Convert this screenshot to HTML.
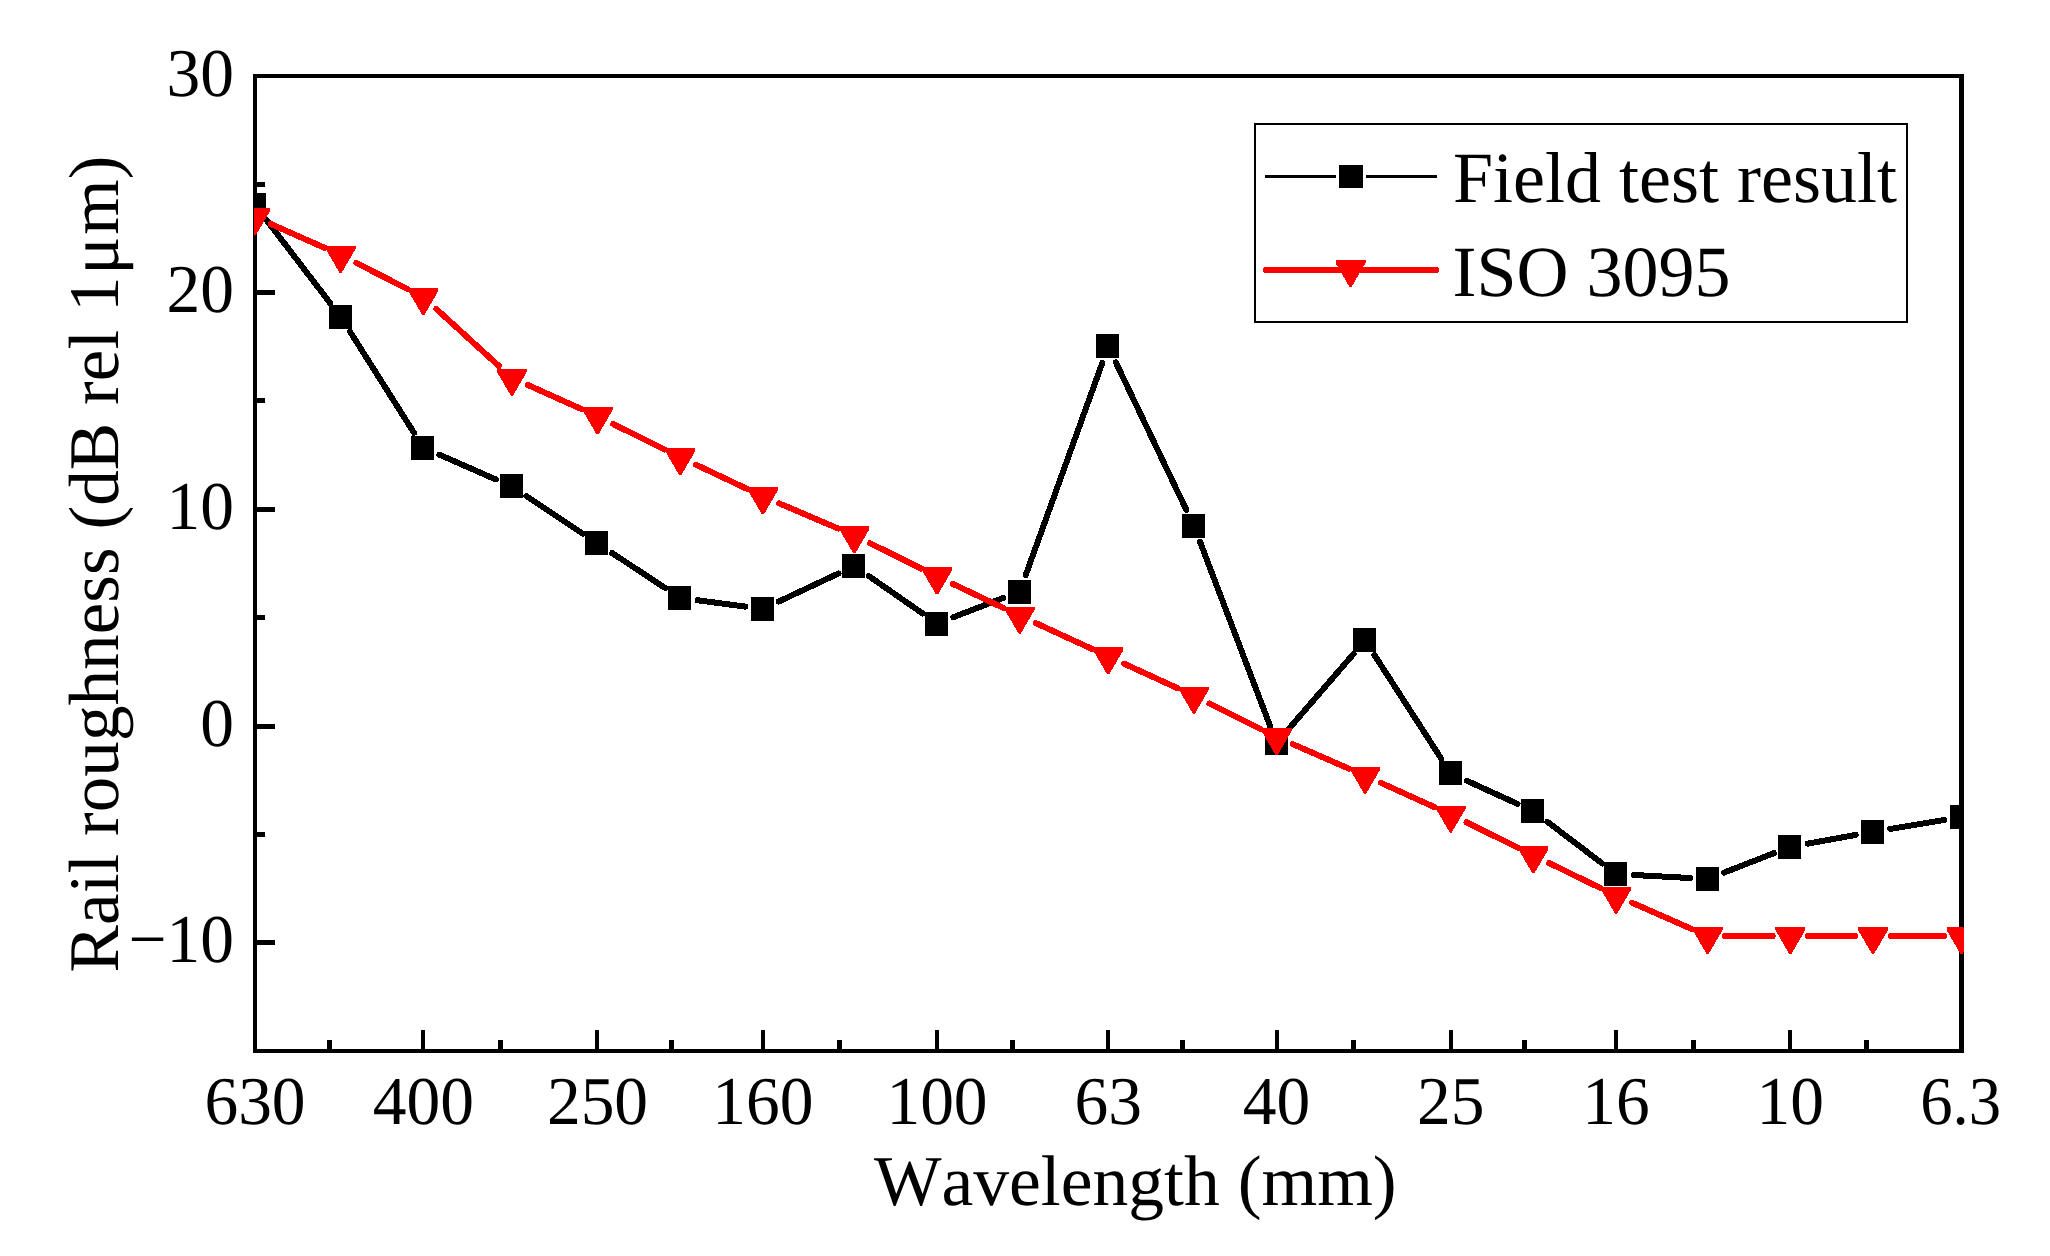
<!DOCTYPE html>
<html lang="en"><head><meta charset="utf-8"><title>Rail roughness</title>
<style>html,body{margin:0;padding:0;background:#fff}body{width:2050px;height:1256px;overflow:hidden}svg{display:block}</style></head>
<body>
<svg width="2050" height="1256" viewBox="0 0 2050 1256" shape-rendering="crispEdges" text-rendering="geometricPrecision">
<rect width="2050" height="1256" fill="#fff"/>
<defs><clipPath id="c"><rect x="254" y="74" width="1710" height="979"/></clipPath></defs>
<g fill="#000">
<rect x="253" y="74" width="4" height="979"/>
<rect x="1959" y="74" width="5" height="979"/>
<rect x="253" y="74" width="1711" height="4"/>
<rect x="253" y="1049" width="1711" height="4"/>
<rect x="255" y="290" width="20" height="5"/>
<rect x="255" y="507" width="20" height="5"/>
<rect x="255" y="724" width="20" height="5"/>
<rect x="255" y="940" width="20" height="5"/>
<rect x="255" y="182" width="10" height="5"/>
<rect x="255" y="398" width="10" height="5"/>
<rect x="255" y="615" width="10" height="5"/>
<rect x="255" y="832" width="10" height="5"/>
<rect x="421" y="1030" width="4" height="21"/>
<rect x="595" y="1030" width="4" height="21"/>
<rect x="761" y="1030" width="4" height="21"/>
<rect x="935" y="1030" width="4" height="21"/>
<rect x="1106" y="1030" width="4" height="21"/>
<rect x="1275" y="1030" width="4" height="21"/>
<rect x="1449" y="1030" width="4" height="21"/>
<rect x="1614" y="1030" width="4" height="21"/>
<rect x="1788" y="1030" width="4" height="21"/>
<rect x="327" y="1040" width="5" height="11"/>
<rect x="498" y="1040" width="5" height="11"/>
<rect x="669" y="1040" width="5" height="11"/>
<rect x="837" y="1040" width="5" height="11"/>
<rect x="1010" y="1040" width="5" height="11"/>
<rect x="1180" y="1040" width="5" height="11"/>
<rect x="1351" y="1040" width="5" height="11"/>
<rect x="1522" y="1040" width="5" height="11"/>
<rect x="1691" y="1040" width="5" height="11"/>
<rect x="1864" y="1040" width="5" height="11"/>
</g>
<g clip-path="url(#c)">
<g stroke="#000" stroke-width="6.0" stroke-linecap="round" fill="none"><line x1="265.64" y1="218.89" x2="330.00" y2="302.86"/><line x1="349.99" y1="331.54" x2="413.98" y2="432.81"/><line x1="439.35" y1="454.64" x2="495.83" y2="479.46"/><line x1="526.43" y1="496.18" x2="582.92" y2="533.72"/><line x1="612.11" y1="553.03" x2="665.57" y2="588.27"/><line x1="697.53" y1="600.23" x2="745.53" y2="606.67"/><line x1="778.71" y1="601.56" x2="838.51" y2="573.44"/><line x1="868.72" y1="575.99" x2="922.67" y2="613.51"/><line x1="953.36" y1="617.20" x2="1003.40" y2="597.90"/><line x1="1025.67" y1="575.14" x2="1102.31" y2="362.96"/><line x1="1115.80" y1="362.29" x2="1186.34" y2="509.81"/><line x1="1200.11" y1="541.96" x2="1270.36" y2="726.64"/><line x1="1288.02" y1="729.76" x2="1353.67" y2="653.74"/><line x1="1374.58" y1="655.21" x2="1441.27" y2="758.69"/><line x1="1466.66" y1="780.68" x2="1517.52" y2="803.92"/><line x1="1547.37" y1="821.78" x2="1602.19" y2="863.42"/><line x1="1633.60" y1="874.96" x2="1690.12" y2="878.04"/><line x1="1723.91" y1="872.65" x2="1773.98" y2="853.15"/><line x1="1807.51" y1="843.68" x2="1855.76" y2="834.92"/><line x1="1890.24" y1="828.93" x2="1944.24" y2="819.97"/></g>
<g fill="#000"><rect x="243" y="193" width="23" height="24"/><rect x="329" y="305" width="23" height="24"/><rect x="411" y="436" width="23" height="24"/><rect x="500" y="474" width="23" height="24"/><rect x="585" y="531" width="23" height="24"/><rect x="668" y="586" width="23" height="24"/><rect x="751" y="597" width="23" height="24"/><rect x="842" y="554" width="23" height="24"/><rect x="925" y="612" width="23" height="24"/><rect x="1008" y="580" width="23" height="24"/><rect x="1096" y="334" width="23" height="24"/><rect x="1182" y="514" width="23" height="24"/><rect x="1265" y="731" width="23" height="24"/><rect x="1353" y="628" width="23" height="24"/><rect x="1439" y="761" width="23" height="24"/><rect x="1521" y="799" width="23" height="24"/><rect x="1604" y="862" width="23" height="24"/><rect x="1696" y="867" width="23" height="24"/><rect x="1778" y="835" width="23" height="24"/><rect x="1861" y="820" width="23" height="24"/><rect x="1950" y="805" width="23" height="24"/></g>
<g stroke="#ff0000" stroke-width="6.0" stroke-linecap="round" fill="none"><line x1="271.00" y1="224.08" x2="324.64" y2="247.82"/><line x1="356.23" y1="262.86" x2="407.74" y2="289.14"/><line x1="436.26" y1="308.89" x2="498.92" y2="366.01"/><line x1="527.82" y1="384.98" x2="581.53" y2="409.12"/><line x1="613.18" y1="424.06" x2="664.50" y2="449.44"/><line x1="696.00" y1="464.70" x2="747.06" y2="488.90"/><line x1="778.97" y1="503.26" x2="838.25" y2="528.54"/><line x1="870.03" y1="543.17" x2="921.36" y2="568.63"/><line x1="952.84" y1="583.91" x2="1003.92" y2="608.19"/><line x1="1035.63" y1="623.01" x2="1092.35" y2="649.09"/><line x1="1124.16" y1="663.70" x2="1177.99" y2="688.40"/><line x1="1209.54" y1="703.53" x2="1260.93" y2="729.27"/><line x1="1292.62" y1="744.09" x2="1349.06" y2="768.71"/><line x1="1381.04" y1="782.92" x2="1434.80" y2="807.28"/><line x1="1466.43" y1="822.26" x2="1517.75" y2="847.64"/><line x1="1549.16" y1="863.07" x2="1600.39" y2="888.03"/><line x1="1632.14" y1="902.76" x2="1691.58" y2="928.94"/><line x1="1725.10" y1="936.00" x2="1772.79" y2="936.00"/><line x1="1807.79" y1="936.00" x2="1855.48" y2="936.00"/><line x1="1890.48" y1="936.00" x2="1944.00" y2="936.00"/></g>
<g fill="#ff0000"><polygon points="240.0,208.0 270.0,208.0 270.0,211.0 256.0,235.0 254.0,235.0 240.0,211.0"/><polygon points="325.6,245.9 355.6,245.9 355.6,248.9 341.6,272.9 339.6,272.9 325.6,248.9"/><polygon points="408.3,288.1 438.3,288.1 438.3,291.1 424.3,315.1 422.3,315.1 408.3,291.1"/><polygon points="496.9,368.8 526.9,368.8 526.9,371.8 512.9,395.8 510.9,395.8 496.9,371.8"/><polygon points="582.5,407.3 612.5,407.3 612.5,410.3 598.5,434.3 596.5,434.3 582.5,410.3"/><polygon points="665.2,448.2 695.2,448.2 695.2,451.2 681.2,475.2 679.2,475.2 665.2,451.2"/><polygon points="747.9,487.4 777.9,487.4 777.9,490.4 763.9,514.4 761.9,514.4 747.9,490.4"/><polygon points="839.3,526.4 869.3,526.4 869.3,529.4 855.3,553.4 853.3,553.4 839.3,529.4"/><polygon points="922.0,567.4 952.0,567.4 952.0,570.4 938.0,594.4 936.0,594.4 922.0,570.4"/><polygon points="1004.7,606.7 1034.7,606.7 1034.7,609.7 1020.7,633.7 1018.7,633.7 1004.7,609.7"/><polygon points="1093.2,647.4 1123.2,647.4 1123.2,650.4 1109.2,674.4 1107.2,674.4 1093.2,650.4"/><polygon points="1178.9,686.7 1208.9,686.7 1208.9,689.7 1194.9,713.7 1192.9,713.7 1178.9,689.7"/><polygon points="1261.6,728.1 1291.6,728.1 1291.6,731.1 1277.6,755.1 1275.6,755.1 1261.6,731.1"/><polygon points="1350.1,766.7 1380.1,766.7 1380.1,769.7 1366.1,793.7 1364.1,793.7 1350.1,769.7"/><polygon points="1435.7,805.5 1465.7,805.5 1465.7,808.5 1451.7,832.5 1449.7,832.5 1435.7,808.5"/><polygon points="1518.4,846.4 1548.4,846.4 1548.4,849.4 1534.4,873.4 1532.4,873.4 1518.4,849.4"/><polygon points="1601.1,886.7 1631.1,886.7 1631.1,889.7 1617.1,913.7 1615.1,913.7 1601.1,889.7"/><polygon points="1692.6,927.0 1722.6,927.0 1722.6,930.0 1708.6,954.0 1706.6,954.0 1692.6,930.0"/><polygon points="1775.3,927.0 1805.3,927.0 1805.3,930.0 1791.3,954.0 1789.3,954.0 1775.3,930.0"/><polygon points="1858.0,927.0 1888.0,927.0 1888.0,930.0 1874.0,954.0 1872.0,954.0 1858.0,930.0"/><polygon points="1946.5,927.0 1976.5,927.0 1976.5,930.0 1962.5,954.0 1960.5,954.0 1946.5,930.0"/></g>
</g>
<rect x="1255" y="124" width="652" height="198" fill="#fff" stroke="#000" stroke-width="2"/>
<rect x="1265" y="175" width="172" height="3" fill="#000"/>
<rect x="1336" y="162" width="30" height="29" fill="#fff"/>
<rect x="1339" y="165" width="24" height="23" fill="#000"/>
<line x1="1266" y1="270" x2="1436" y2="270" stroke="#ff0000" stroke-width="6" stroke-linecap="round"/>
<g fill="#ff0000"><polygon points="1335.5,260.0 1365.5,260.0 1365.5,263.0 1351.5,287.0 1349.5,287.0 1335.5,263.0"/></g>
<g font-family="'Liberation Serif', 'Times New Roman', serif" fill="#000" style="font-kerning:none">
<g font-size="68.5" text-anchor="middle">
<text transform="translate(255.0,1124) scale(0.985,1)">630</text>
<text transform="translate(423.3,1124) scale(0.985,1)">400</text>
<text transform="translate(597.5,1124) scale(0.985,1)">250</text>
<text transform="translate(762.9,1124) scale(0.985,1)">160</text>
<text transform="translate(937.0,1124) scale(0.985,1)">100</text>
<text transform="translate(1108.2,1124) scale(0.985,1)">63</text>
<text transform="translate(1276.6,1124) scale(0.985,1)">40</text>
<text transform="translate(1450.7,1124) scale(0.985,1)">25</text>
<text transform="translate(1616.1,1124) scale(0.985,1)">16</text>
<text transform="translate(1790.3,1124) scale(0.985,1)">10</text>
<text transform="translate(1960.6,1124) scale(0.945,1)">6.3</text>
</g>
<g font-size="68.5" text-anchor="end">
<text transform="translate(234,95.7) scale(0.985,1)">30</text>
<text transform="translate(234,312.4) scale(0.985,1)">20</text>
<text transform="translate(234,529.0) scale(0.985,1)">10</text>
<text transform="translate(234,745.7) scale(0.985,1)">0</text>
<text transform="translate(234,962.4) scale(0.985,1)">−10</text>
</g>
<text x="1135.3" y="1205" font-size="71.6" text-anchor="middle">Wavelength (mm)</text>
<text transform="translate(118.4,564) rotate(-90)" font-size="71.2" text-anchor="middle">Rail roughness (dB rel 1<tspan dx="1.8">μ</tspan><tspan dx="1.8">m)</tspan></text>
<text x="1453" y="202.4" font-size="72">Field test result</text>
<text x="1452.5" y="296.3" font-size="72">ISO 3095</text>
</g>
</svg>
</body></html>
